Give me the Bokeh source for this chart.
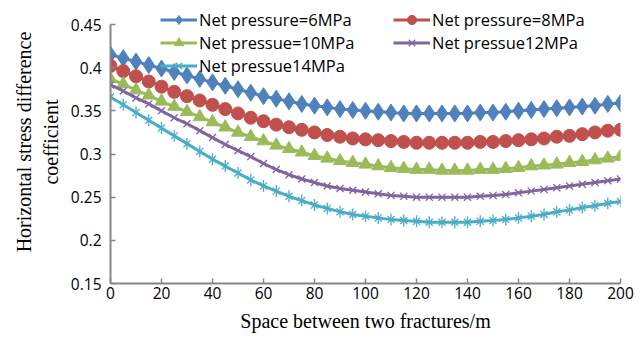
from bokeh.plotting import figure
from bokeh.models import Legend, LegendItem, FixedTicker, Range1d
from bokeh.embed import file_html
from bokeh.resources import INLINE

x = list(range(0, 205, 5))

net6 = [0.415, 0.411, 0.407, 0.403, 0.399, 0.395, 0.391, 0.387, 0.383, 0.379,
        0.375, 0.371, 0.367, 0.364, 0.361, 0.358, 0.356, 0.354, 0.352, 0.351,
        0.350, 0.349, 0.348, 0.347, 0.347, 0.347, 0.347, 0.347, 0.347, 0.348,
        0.348, 0.349, 0.350, 0.351, 0.352, 0.353, 0.354, 0.355, 0.356, 0.358, 0.359]
net8 = [0.402, 0.396, 0.390, 0.384, 0.378, 0.372, 0.367, 0.362, 0.357, 0.352,
        0.347, 0.342, 0.338, 0.334, 0.331, 0.328, 0.325, 0.322, 0.320, 0.318,
        0.317, 0.316, 0.315, 0.314, 0.313, 0.313, 0.313, 0.313, 0.313, 0.314,
        0.314, 0.315, 0.316, 0.317, 0.318, 0.320, 0.321, 0.323, 0.325, 0.327, 0.328]
net10 = [0.387, 0.381, 0.374, 0.368, 0.361, 0.355, 0.349, 0.343, 0.337, 0.331,
         0.325, 0.320, 0.315, 0.310, 0.306, 0.302, 0.298, 0.295, 0.292, 0.290,
         0.288, 0.286, 0.284, 0.283, 0.282, 0.282, 0.281, 0.281, 0.281, 0.282,
         0.282, 0.283, 0.284, 0.286, 0.287, 0.288, 0.290, 0.291, 0.293, 0.295, 0.297]
net12 = [0.380, 0.373, 0.365, 0.358, 0.350, 0.342, 0.335, 0.327, 0.319, 0.311,
         0.304, 0.297, 0.289, 0.282, 0.276, 0.271, 0.267, 0.263, 0.260, 0.258,
         0.256, 0.254, 0.252, 0.251, 0.250, 0.250, 0.250, 0.250, 0.250, 0.251,
         0.252, 0.253, 0.255, 0.257, 0.259, 0.261, 0.263, 0.265, 0.267, 0.269, 0.271]
net14 = [0.366, 0.357, 0.348, 0.339, 0.330, 0.321, 0.312, 0.303, 0.294, 0.286,
         0.278, 0.270, 0.263, 0.257, 0.251, 0.246, 0.241, 0.237, 0.233, 0.230,
         0.228, 0.226, 0.224, 0.223, 0.222, 0.221, 0.221, 0.221, 0.221, 0.222,
         0.223, 0.224, 0.226, 0.228, 0.230, 0.233, 0.235, 0.238, 0.240, 0.243, 0.245]

labels = ["Net pressure=6MPa", "Net pressure=8MPa", "Net pressue=10MPa",
          "Net pressue12MPa", "Net pressue14MPa"]
colors = ["#4F81BD", "#C0504D", "#9BBB59", "#8064A2", "#4BACC6"]

x_ticks = list(range(0, 201, 20))
y_ticks = [0.15, 0.2, 0.25, 0.3, 0.35, 0.4, 0.45]

p = figure(width=644, height=343, output_backend="svg", toolbar_location=None,
           x_range=Range1d(0, 200), y_range=Range1d(0.15, 0.4778),
           min_border_left=110, min_border_right=24, min_border_top=0,
           min_border_bottom=60)
p.outline_line_color = None
p.xgrid.visible = False
p.ygrid.visible = False
p.background_fill_color = "white"
p.border_fill_color = "white"

for ax in (p.xaxis[0], p.yaxis[0]):
    ax.axis_line_color = "#868686"
    ax.axis_line_width = 2
    ax.major_tick_line_color = "#868686"
    ax.major_tick_line_width = 1.5
    ax.major_tick_in = 5
    ax.major_tick_out = 0
    ax.minor_tick_line_color = None
    ax.major_label_text_font = "Open Sans"
    ax.major_label_text_font_size = "15.5px"
    ax.major_label_text_color = "#000000"
    ax.axis_label_text_font = "Liberation Serif"
    ax.axis_label_text_font_size = "20px"
    ax.axis_label_text_font_style = "normal"
    ax.axis_label_text_color = "#000000"

p.yaxis[0].bounds = (0.15, 0.45)
p.xaxis[0].ticker = FixedTicker(ticks=x_ticks)
p.yaxis[0].ticker = FixedTicker(ticks=y_ticks)
p.yaxis[0].major_label_overrides = {0.15: "0.15", 0.2: "0.2", 0.25: "0.25", 0.3: "0.3",
                                    0.35: "0.35", 0.4: "0.4", 0.45: "0.45"}
p.xaxis[0].axis_label = "Space between two fractures/m"
p.yaxis[0].axis_label = "Horizontal stress difference\ncoefficient"
p.xaxis[0].major_label_standoff = 3
p.yaxis[0].major_label_standoff = 9
p.xaxis[0].axis_label_standoff = 8
p.yaxis[0].axis_label_standoff = 6

items = []
l = p.line(x, net6, line_color=colors[0], line_width=3)
m = p.scatter(x, net6, marker="diamond", size=17, fill_color=colors[0], line_color=colors[0])
items.append(LegendItem(label=labels[0], renderers=[l, m]))
l = p.line(x, net8, line_color=colors[1], line_width=3)
m = p.scatter(x, net8, marker="circle", size=13, fill_color=colors[1], line_color=colors[1])
items.append(LegendItem(label=labels[1], renderers=[l, m]))
l = p.line(x, net10, line_color=colors[2], line_width=3)
m = p.scatter(x, net10, marker="triangle", size=13, fill_color=colors[2], line_color=colors[2])
items.append(LegendItem(label=labels[2], renderers=[l, m]))
l = p.line(x, net12, line_color=colors[3], line_width=3)
m = p.scatter(x, net12, marker="x", size=10, line_color=colors[3], line_width=1.3)
items.append(LegendItem(label=labels[3], renderers=[l, m]))
l = p.line(x, net14, line_color=colors[4], line_width=3)
m = p.scatter(x, net14, marker="x", size=10, line_color=colors[4], line_width=1.3)
m2 = p.scatter(x, net14, marker="dash", size=12, angle=1.5708, line_color=colors[4], line_width=1.3)
items.append(LegendItem(label=labels[4], renderers=[l, m, m2]))

common = dict(orientation="vertical", background_fill_alpha=0, border_line_color=None,
              label_text_font="Open Sans", label_text_font_size="16.5px",
              label_text_color="#000000", glyph_width=37, glyph_height=23,
              label_standoff=2, spacing=0, padding=0, margin=0, label_height=20)
legend1 = Legend(items=[items[0], items[2], items[4]], location=(50, 206), **common)
legend2 = Legend(items=[items[1], items[3]], location=(283, 229), **common)
p.add_layout(legend1, "center")
p.add_layout(legend2, "center")

open("out.html", "w").write(file_html(p, INLINE))
